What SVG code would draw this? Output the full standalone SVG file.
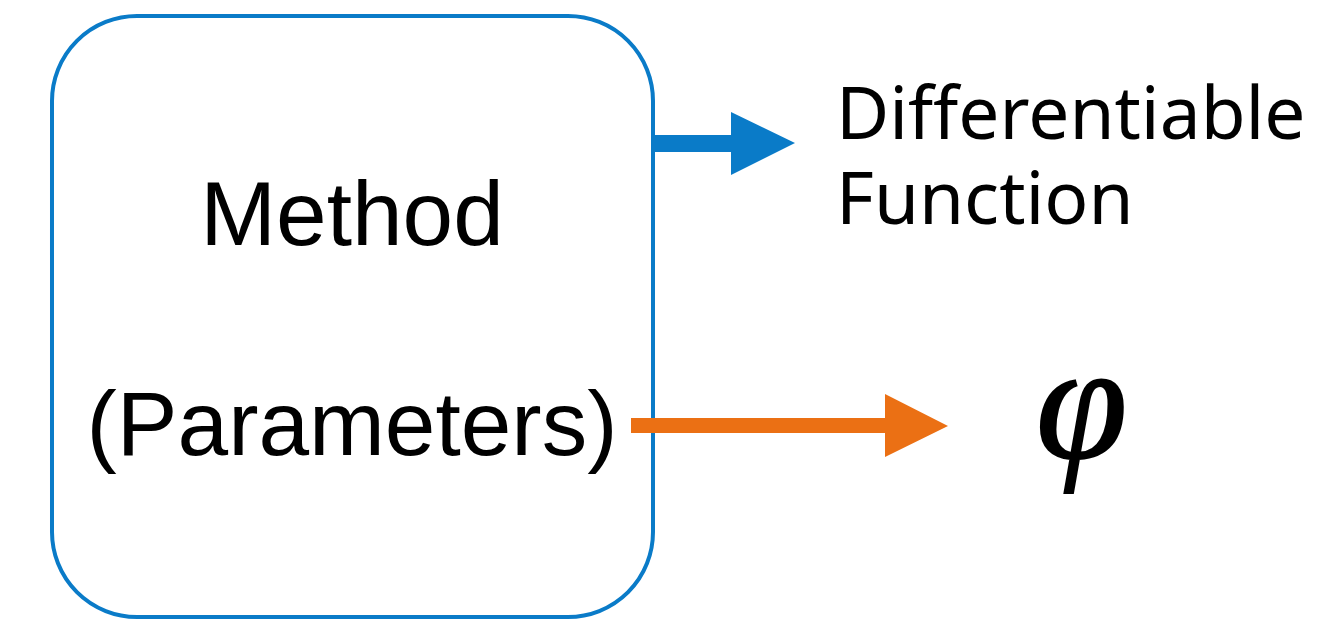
<svg xmlns="http://www.w3.org/2000/svg" width="1323" height="622" viewBox="0 0 1323 622">
<style>
.lbl{font-family:"Liberation Sans",Arial,sans-serif;font-size:91px;fill:#000}
.out{font-family:"Noto Sans","Open Sans",sans-serif;font-size:73px;fill:#000}
.phi{font-family:"Liberation Serif","DejaVu Serif",serif;font-style:italic;font-size:165px;fill:#000;stroke:#000;stroke-width:2}
</style>
<rect width="1323" height="622" fill="#fff"/>
<g id="method">
<rect x="52" y="16" width="601" height="601" rx="85" ry="85" fill="#fff" stroke="#0A7BC8" stroke-width="4"/>
<text class="lbl" x="352" y="245" text-anchor="middle">Method</text>
<text class="lbl" x="352" y="455" text-anchor="middle">(Parameters)</text>
</g>
<g id="connectors">
<polygon points="653,135 731,135 731,112 795,143 731,175 731,152 653,152" fill="#0A7BC8"/>
<polygon points="631,418 885,418 885,394 948,426 885,457 885,433 631,433" fill="#EB7014"/>
</g>
<g id="function">
<text class="out"><tspan x="836" y="139">Differentiable</tspan><tspan x="836" y="224">Function</tspan></text>
</g>
<g id="phi">
<text class="phi" x="1036" y="458">φ</text>
</g>
</svg>
